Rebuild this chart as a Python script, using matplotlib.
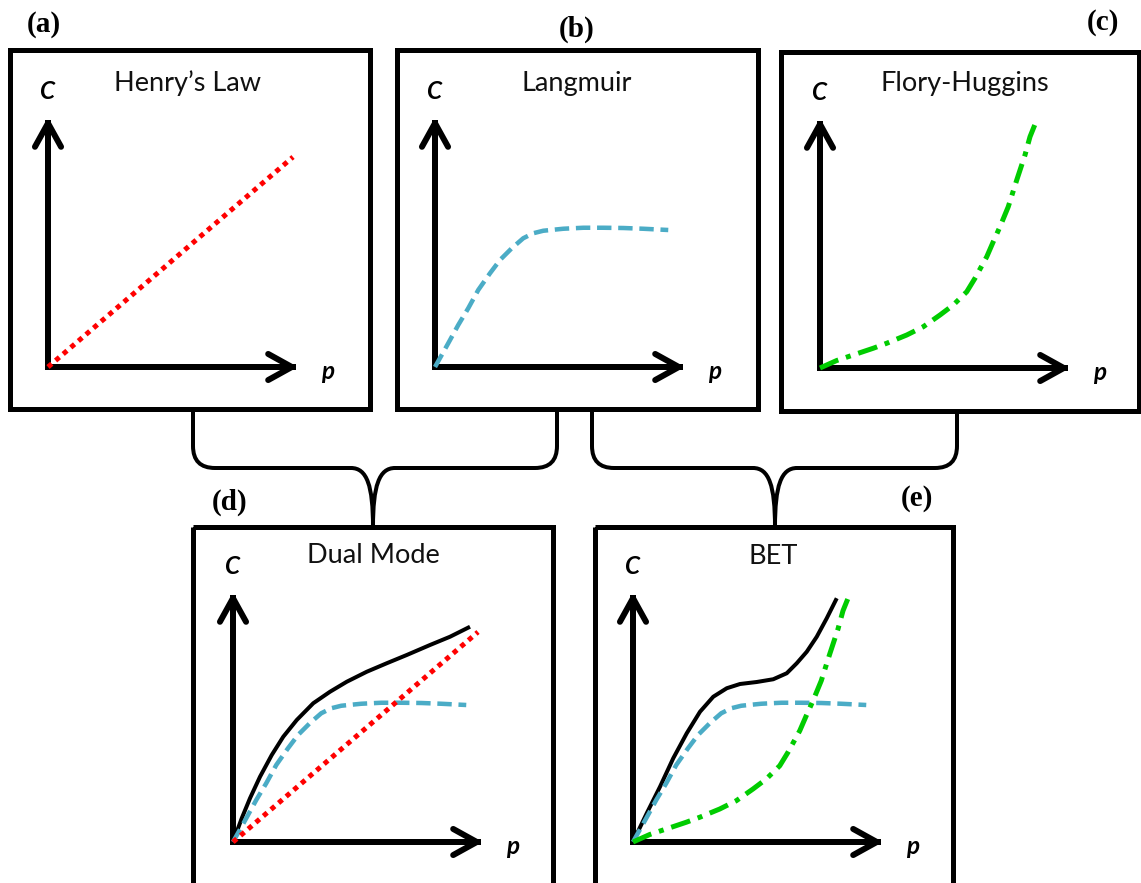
import matplotlib
matplotlib.use("Agg")
import matplotlib.pyplot as plt
from matplotlib.patches import Rectangle, PathPatch
from matplotlib.path import Path

# ---------------- data (schematic isotherm shapes, axis units 0..10) ----------------
henry_p = [0.0, 9.8]
henry_c = [0.0, 8.4]

langmuir_p = [0.0, 0.53, 0.93, 1.33, 1.73, 2.2, 2.6, 3.07, 3.53, 3.93, 4.33,
              5.13, 5.93, 6.73, 7.53, 8.33, 9.33]
langmuir_c = [0.0, 0.95, 1.68, 2.35, 3.08, 3.75, 4.28, 4.75, 5.15, 5.35, 5.45,
              5.53, 5.57, 5.57, 5.56, 5.53, 5.48]

fh_p = [0.0, 0.67, 2.13, 2.67, 3.47, 4.13, 4.8, 5.33, 5.87, 6.2, 6.67, 6.93,
        7.2, 7.53, 7.87, 8.2, 8.4, 8.67]
fh_c = [0.0, 0.3, 0.79, 0.99, 1.32, 1.65, 2.12, 2.52, 3.05, 3.59, 4.45, 5.05,
        5.65, 6.45, 7.52, 8.52, 9.25, 9.92]

dual_p = [0.0, 0.35, 0.68, 1.08, 1.55, 2.01, 2.55, 3.21, 3.88, 4.55, 5.35,
          6.15, 6.95, 7.88, 8.68, 9.48]
dual_c = [0.0, 0.95, 1.75, 2.61, 3.48, 4.21, 4.88, 5.55, 6.01, 6.41, 6.81,
          7.15, 7.48, 7.88, 8.21, 8.61]

bet_p = [0.0, 0.55, 1.08, 1.61, 2.15, 2.68, 3.21, 3.75, 4.28, 4.95, 5.61,
         6.15, 6.55, 6.95, 7.35, 7.75, 8.15]
bet_c = [0.0, 1.15, 2.21, 3.35, 4.35, 5.21, 5.81, 6.15, 6.32, 6.4, 6.51,
         6.75, 7.15, 7.61, 8.21, 8.95, 9.75]

titles = ["Henry\u2019s Law", "Langmuir", "Flory-Huggins", "Dual Mode", "BET"]
panel_labels = ["(a)", "(b)", "(c)", "(d)", "(e)"]

# ---------------- layout ----------------
W, H = 1141, 883
PX = 0.72  # points per pixel at dpi 100
fig = plt.figure(figsize=(W / 100, H / 100), dpi=100)
bg = fig.add_axes([0, 0, 1, 1])
bg.set_xlim(0, W)
bg.set_ylim(H, 0)
bg.axis("off")

boxes = [(10, 50, 370, 409), (397, 50, 758, 409), (781, 52, 1139, 411),
         (193, 527, 553, 895), (595, 527, 953, 895)]
origins = [(48, 367), (435, 367), (820, 368), (233, 842), (633, 842)]
label_pos = [(44, 25), (577, 29), (1103, 22), (230, 502), (917, 499)]
title_base = [91, 91, 91, 563, 564]
title_x = [188, 577, 965, 373, 773]

for (x0, y0, x1, y1) in boxes:
    bg.add_patch(Rectangle((x0, y0), x1 - x0, y1 - y0, fill=False,
                           lw=5 * PX, ec="black", joinstyle="miter"))


def brace(xl, cx, xr, ytop=409, yh=468, ybot=527):
    r = 22
    verts = [(xl, ytop), (xl, yh - r),
             (xl, yh), (xl + r, yh),
             (cx - 22, yh),
             (cx - 6, yh), (cx, yh + 18), (cx, ybot),
             (cx, yh + 18), (cx + 6, yh), (cx + 22, yh),
             (xr - r, yh),
             (xr, yh), (xr, yh - r),
             (xr, ytop)]
    codes = [Path.MOVETO, Path.LINETO,
             Path.CURVE3, Path.CURVE3,
             Path.LINETO,
             Path.CURVE4, Path.CURVE4, Path.CURVE4,
             Path.CURVE4, Path.CURVE4, Path.CURVE4,
             Path.LINETO,
             Path.CURVE3, Path.CURVE3,
             Path.LINETO]
    bg.add_patch(PathPatch(Path(verts, codes), fill=False, lw=4 * PX,
                           ec="black", capstyle="butt"))


brace(193, 373, 557)
brace(592, 775, 957)

# styles
henry_style = dict(color="#FF0000", lw=5 * PX, ls=(0, (1, 1)), dash_capstyle="butt")
lang_style = dict(color="#4BACC6", lw=4.5 * PX, ls=(0, (3.2, 1.5)), dash_capstyle="butt")
fh_style = dict(color="#00CC00", lw=5 * PX, ls=(0, (4, 1.6, 1, 1.6)), dash_capstyle="butt")
sum_style = dict(color="black", lw=4 * PX, solid_capstyle="butt", solid_joinstyle="round")

panel_series = [
    [(henry_p, henry_c, henry_style)],
    [(langmuir_p, langmuir_c, lang_style)],
    [(fh_p, fh_c, fh_style)],
    [(dual_p, dual_c, sum_style), (langmuir_p, langmuir_c, lang_style),
     (henry_p, henry_c, henry_style)],
    [(bet_p, bet_c, sum_style), (langmuir_p, langmuir_c, lang_style),
     (fh_p, fh_c, fh_style)],
]

SIZE = 250
head_props = dict(arrowstyle="->,head_length=0.85,head_width=0.47",
                  lw=6 * PX, color="black", mutation_scale=20,
                  shrinkA=0, shrinkB=0)

for i, (ox, oy) in enumerate(origins):
    ax = fig.add_axes([ox / W, (H - oy) / H, SIZE / W, SIZE / H])
    ax.set_xlim(0, 10)
    ax.set_ylim(0, 10)
    ax.axis("off")
    ax.patch.set_alpha(0)
    # axes lines (L shape) and chevron heads
    ax.plot([0, 0, 9.9], [9.9, 0, 0], color="black", lw=6 * PX,
            solid_joinstyle="miter", solid_capstyle="butt", clip_on=False)
    ax.annotate("", xy=(10, 0), xytext=(9, 0), arrowprops=head_props,
                annotation_clip=False)
    ax.annotate("", xy=(0, 10), xytext=(0, 9), arrowprops=head_props,
                annotation_clip=False)
    for xs, ys, st in panel_series[i]:
        ax.plot(xs, ys, clip_on=False, **st)

    # texts
    bg.text(title_x[i], title_base[i], titles[i], ha="center", va="baseline",
            fontsize=19.5, family="Lato", color="#111111")
    bg.text(ox - 1, oy - 268, "C", ha="center", va="baseline", fontsize=17.5,
            family="Lato", style="italic", weight="bold")
    bg.text(ox + 280, oy + 12, "p", ha="center", va="baseline", fontsize=17.5,
            family="Lato", style="italic", weight="bold")
    lx, ly = label_pos[i]
    bg.text(lx, ly, panel_labels[i], ha="center", va="center", fontsize=21,
            family="Liberation Serif", weight="bold")

fig.savefig("out.png", dpi=100)
